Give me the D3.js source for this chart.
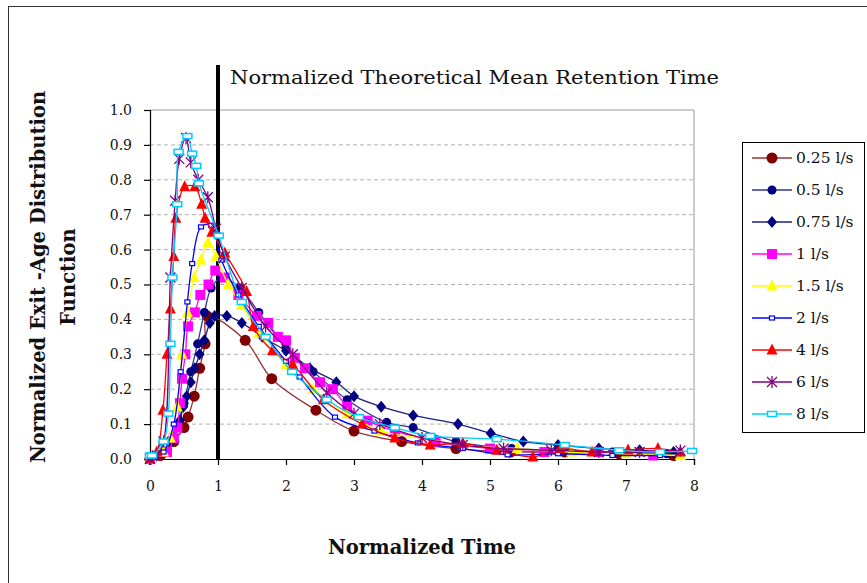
<!DOCTYPE html>
<html lang="en">
<head>
<meta charset="utf-8">
<title>Exit-age distribution</title>
<script src="https://cdn.jsdelivr.net/npm/d3@7"></script>
<style>
  body { margin: 0; background: #fff; }
  text { font-family: "DejaVu Serif", "Liberation Serif", serif; }
</style>
</head>
<body>
<script>
// ---- data ----
var seriesNames = ["0.25 l/s", "0.5 l/s", "0.75 l/s", "1 l/s", "1.5 l/s", "2 l/s", "4 l/s", "6 l/s", "8 l/s"];

var s025 = [[0,0],[0.15,0.01],[0.35,0.05],[0.5,0.09],[0.56,0.12],[0.65,0.18],[0.73,0.26],[0.81,0.33],[0.84,0.41],[1.4,0.34],[1.79,0.23],[2.44,0.14],[3.0,0.08],[3.7,0.05],[4.5,0.03],[5.3,0.02],[6.1,0.02],[6.9,0.015],[7.7,0.01]];
var s05 = [[0,0],[0.2,0.02],[0.3,0.05],[0.4,0.1],[0.5,0.16],[0.6,0.25],[0.7,0.33],[0.8,0.42],[0.9,0.49],[1.05,0.52],[1.32,0.49],[1.6,0.42],[2.0,0.32],[2.4,0.25],[2.9,0.17],[3.48,0.105],[3.87,0.09],[4.5,0.05],[5.32,0.03],[6.0,0.025],[6.8,0.02],[7.6,0.015]];
var s075 = [[0,0],[0.22,0.02],[0.35,0.06],[0.44,0.11],[0.49,0.15],[0.54,0.18],[0.6,0.22],[0.66,0.26],[0.73,0.3],[0.8,0.34],[0.88,0.39],[0.95,0.41],[1.13,0.41],[1.35,0.39],[1.65,0.35],[2.0,0.31],[2.35,0.26],[2.74,0.22],[3.0,0.18],[3.4,0.15],[3.87,0.125],[4.53,0.1],[5.01,0.074],[5.49,0.05],[6.0,0.04],[6.6,0.03],[7.2,0.025],[7.7,0.02]];
var s1 = [[0,0],[0.25,0.02],[0.35,0.06],[0.4,0.09],[0.44,0.16],[0.47,0.23],[0.52,0.3],[0.56,0.38],[0.66,0.42],[0.74,0.47],[0.86,0.5],[0.96,0.54],[1.1,0.52],[1.3,0.47],[1.57,0.41],[1.74,0.39],[1.88,0.35],[2.0,0.34],[2.13,0.29],[2.28,0.26],[2.5,0.22],[2.69,0.2],[2.9,0.15],[3.2,0.11],[3.6,0.08],[4.2,0.05],[5.0,0.03],[5.8,0.02],[6.6,0.02],[7.4,0.01]];
var s15 = [[0,0],[0.2,0.02],[0.3,0.06],[0.4,0.15],[0.47,0.3],[0.55,0.42],[0.65,0.52],[0.75,0.57],[0.85,0.62],[0.97,0.58],[1.15,0.5],[1.35,0.44],[1.6,0.36],[2.0,0.27],[2.4,0.2],[2.9,0.13],[3.4,0.08],[4.0,0.06],[4.6,0.04],[5.4,0.03],[6.2,0.02],[7.0,0.015],[7.8,0.01]];
var s2 = [[0,0],[0.2,0.02],[0.35,0.1],[0.45,0.25],[0.55,0.45],[0.62,0.56],[0.75,0.665],[0.9,0.67],[1.05,0.57],[1.3,0.47],[1.6,0.38],[2.0,0.28],[2.2,0.235],[2.72,0.12],[3.3,0.08],[3.94,0.046],[4.6,0.03],[5.26,0.012],[6.0,0.015],[6.8,0.01],[7.5,0.01]];
var s4 = [[0,0],[0.1,0.02],[0.19,0.14],[0.25,0.3],[0.3,0.43],[0.35,0.58],[0.38,0.69],[0.51,0.78],[0.66,0.78],[0.76,0.73],[0.81,0.69],[0.91,0.65],[1.1,0.59],[1.42,0.48],[1.52,0.38],[1.8,0.31],[2.1,0.27],[2.55,0.17],[3.12,0.1],[3.6,0.06],[4.12,0.04],[4.6,0.045],[5.1,0.025],[5.63,0.006],[6.03,0.03],[6.5,0.02],[7.03,0.026],[7.47,0.03],[7.8,0.02]];
var s6 = [[0,0],[0.1,0.01],[0.2,0.05],[0.3,0.52],[0.37,0.74],[0.43,0.86],[0.53,0.92],[0.6,0.85],[0.71,0.8],[0.85,0.75],[0.97,0.66],[1.1,0.58],[1.35,0.49],[1.7,0.38],[2.1,0.3],[2.6,0.19],[3.0,0.13],[3.38,0.1],[4.0,0.06],[4.6,0.04],[5.2,0.03],[5.9,0.025],[6.6,0.02],[7.2,0.02],[7.8,0.024]];
var s8 = [[0,0.01],[0.03,0.01],[0.2,0.05],[0.27,0.13],[0.3,0.33],[0.33,0.52],[0.4,0.73],[0.42,0.88],[0.55,0.925],[0.62,0.875],[0.68,0.84],[0.72,0.79],[1.01,0.64],[1.35,0.45],[1.7,0.35],[2.09,0.25],[2.6,0.17],[3.07,0.12],[3.6,0.09],[4.12,0.066],[5.1,0.057],[6.1,0.04],[6.9,0.025],[7.5,0.02],[7.97,0.023]];

var allSeries = [s025, s05, s075, s1, s15, s2, s4, s6, s8];
var colors = ["#800000", "#000080", "#000080", "#FF00FF", "#FFFF00", "#0000FF", "#FF0000", "#800080", "#00CCFF"];
var lineColors = ["#993333", "#333399", "#1F1F7A", "#FF00FF", "#FFFF00", "#0000FF", "#FF0000", "#800080", "#00CCFF"];
var markers = ["circle", "circleS", "diamond", "square", "triangle", "smallbox", "triangle", "star", "box"];

var xTicks = [0, 1, 2, 3, 4, 5, 6, 7, 8];
var yTicks = [0, 0.1, 0.2, 0.3, 0.4, 0.5, 0.6, 0.7, 0.8, 0.9, 1.0];
var meanTime = 1;

// ---- svg ----
var w = 867, h = 583;
var svg = d3.select("body").append("svg").attr("width", w).attr("height", h);

// outer frame (only left/top visible in the picture)
svg.append("rect").attr("x", 8.5).attr("y", 6.5).attr("width", 880).attr("height", 600)
   .attr("fill", "none").attr("stroke", "#333").attr("stroke-width", 1);

var x = d3.scaleLinear().domain([0, 8]).range([150, 694]);
var y = d3.scaleLinear().domain([0, 1]).range([459, 110]);

// gridlines
svg.selectAll("line.grid").data(yTicks.filter(function(d) { return d > 0 && d < 1; }))
   .enter().append("line").attr("class", "grid")
   .attr("x1", x(0)).attr("x2", x(8))
   .attr("y1", function(d) { return y(d); }).attr("y2", function(d) { return y(d); })
   .attr("stroke", "#b0b0b0").attr("stroke-dasharray", "4,3");
// top + right border
svg.append("path").attr("d", "M" + x(0) + "," + y(1) + "H" + x(8) + "V" + y(0))
   .attr("fill", "none").attr("stroke", "#999");

// axes
var yAxis = d3.axisLeft(y).tickValues(yTicks).tickFormat(d3.format(".1f")).tickSize(6).tickPadding(12);
var xAxis = d3.axisBottom(x).tickValues(xTicks).tickFormat(d3.format("d")).tickSize(6).tickPadding(16);
var gy = svg.append("g").attr("transform", "translate(" + x(0) + ",0)").call(yAxis);
var gx = svg.append("g").attr("transform", "translate(0," + y(0) + ")").call(xAxis);
[gx, gy].forEach(function(g) {
  g.select(".domain").attr("stroke", "#000").attr("stroke-width", 1.2);
  g.selectAll(".tick line").attr("stroke", "#000").attr("stroke-width", 1.2);
  g.selectAll("text").attr("font-family", "DejaVu Serif").attr("font-size", "14px").attr("fill", "#111");
});

// mean retention time line
svg.append("line").attr("x1", x(meanTime)).attr("x2", x(meanTime))
   .attr("y1", 65).attr("y2", y(0)).attr("stroke", "#000").attr("stroke-width", 4);
svg.append("text").attr("x", 230).attr("y", 84).attr("font-size", "18px").attr("fill", "#111")
   .attr("textLength", 489).attr("lengthAdjust", "spacingAndGlyphs")
   .text("Normalized Theoretical Mean Retention Time");

// marker drawing
function drawMarker(g, type, col) {
  if (type === "circle") {
    g.append("circle").attr("r", 5.5).attr("fill", col);
  } else if (type === "circleS") {
    g.append("circle").attr("r", 4.5).attr("fill", col);
  } else if (type === "diamond") {
    g.append("path").attr("d", "M0,-6L5,0L0,6L-5,0Z").attr("fill", col);
  } else if (type === "square") {
    g.append("rect").attr("x", -5).attr("y", -5).attr("width", 10).attr("height", 10).attr("fill", col);
  } else if (type === "triangle") {
    g.append("path").attr("d", "M0,-6.5L5.5,4.5L-5.5,4.5Z").attr("fill", col);
  } else if (type === "smallbox") {
    g.append("rect").attr("x", -2.5).attr("y", -2).attr("width", 5).attr("height", 4)
      .attr("fill", "#fff").attr("stroke", col).attr("stroke-width", 1.2);
  } else if (type === "star") {
    g.append("path").attr("d", "M-5,-5L5,5M-5,5L5,-5M0,-6V6")
      .attr("stroke", col).attr("stroke-width", 1.3);
  } else if (type === "box") {
    g.append("rect").attr("x", -4.5).attr("y", -2.5).attr("width", 9).attr("height", 5)
      .attr("fill", "#fff").attr("stroke", col).attr("stroke-width", 1.5);
  }
}

var line = d3.line()
  .x(function(d) { return x(d[0]); })
  .y(function(d) { return y(d[1]); })
  .curve(d3.curveCatmullRom.alpha(0.5));

allSeries.forEach(function(data, i) {
  var g = svg.append("g");
  g.append("path").datum(data).attr("d", line)
    .attr("fill", "none").attr("stroke", lineColors[i]).attr("stroke-width", 1.3);
  g.selectAll("g.pt").data(data).enter().append("g").attr("class", "pt")
    .attr("transform", function(d) { return "translate(" + x(d[0]) + "," + y(d[1]) + ")"; })
    .each(function() { drawMarker(d3.select(this), markers[i], colors[i]); });
});

// axis titles
svg.append("text").attr("x", (x(0) + x(8)) / 2).attr("y", 554).attr("text-anchor", "middle")
   .attr("font-size", "19.5px").attr("font-weight", "bold").attr("fill", "#111").text("Normalized Time");
var yt = svg.append("text").attr("transform", "translate(45,277) rotate(-90)")
   .attr("text-anchor", "middle").attr("font-size", "19.5px").attr("font-weight", "bold").attr("fill", "#111");
yt.append("tspan").attr("x", 0).attr("y", 0).text("Normalized Exit -Age Distribution");
yt.append("tspan").attr("x", 0).attr("y", 30).text("Function");

// legend
var lg = svg.append("g");
lg.append("rect").attr("x", 742.5).attr("y", 142.5).attr("width", 122).attr("height", 290)
  .attr("fill", "#fff").attr("stroke", "#000");
seriesNames.forEach(function(name, i) {
  var ly = 158 + i * 32;
  var it = lg.append("g").attr("transform", "translate(0," + ly + ")");
  it.append("line").attr("x1", 752).attr("x2", 792).attr("stroke", lineColors[i]).attr("stroke-width", 1.5);
  var m = it.append("g").attr("transform", "translate(772,0)");
  drawMarker(m, markers[i], colors[i]);
  it.append("text").attr("x", 796).attr("y", 5).attr("font-size", "15.5px").attr("fill", "#111").text(name);
});
</script>
</body>
</html>
